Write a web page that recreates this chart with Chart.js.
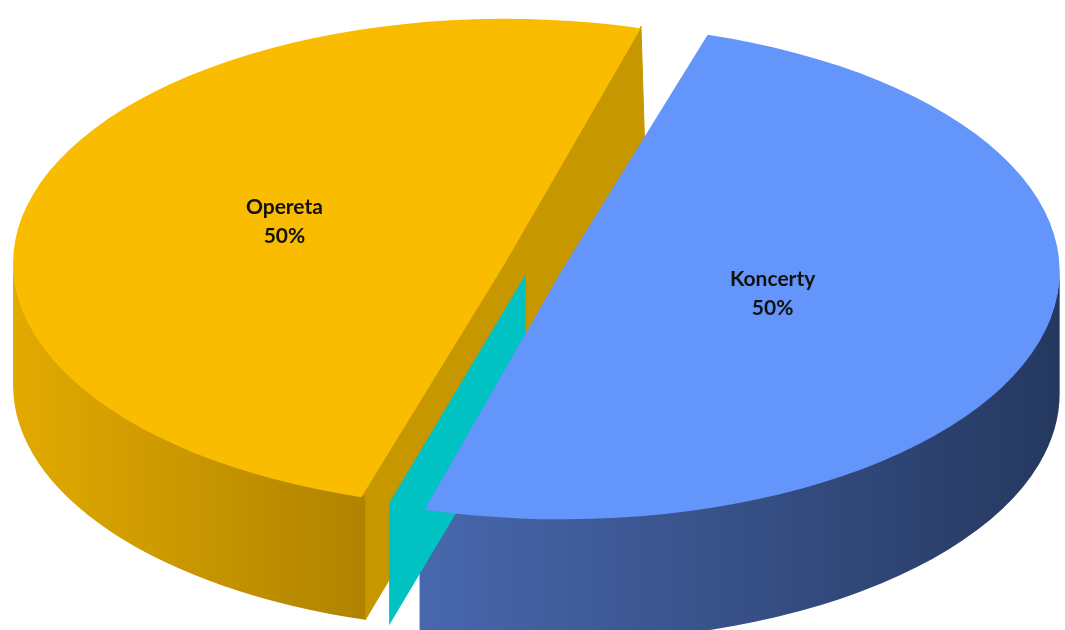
<!DOCTYPE html>
<html>
<head>
<meta charset="utf-8">
<script src="https://cdn.jsdelivr.net/npm/chart.js@4.4.1/dist/chart.umd.min.js"></script>
<style>
  html, body { margin: 0; padding: 0; background: #fff; }
</style>
</head>
<body>
<canvas id="pieChart" width="1065" height="630"></canvas>
<script>
// Data
const categories = ["Koncerty", "Inne", "Opereta"];
const values = [50, 0, 50];

// Colours: top face, outer wall (left -> right shade), cut face
const topColors = ["#6495FA", "#00C2C2", "#F9BC00"];
const wallColors = [["#4868AE", "#25385F"], ["#00C2C2", "#00C2C2"], ["#E2AA00", "#B08300"]];
const cutColors = ["#3A5690", "#00C2C2", "#C79700"];

// 3D look
const RADIUS = 466;             // base radius in px (explode adds offset/4 to it)
const TILT = 246 / 495;         // vertical squash of the top face
const DEPTH = 122;              // thickness of the pie in px
const EXPLODE = [130, 60, 104]; // per slice pull-out

// same math as Chart.js ArcElement.draw: shift along mid angle + bigger radius
function arcGeom(arc) {
  const circ = arc.endAngle - arc.startAngle;
  const off = (arc.options.offset || 0) / 4;
  const fix = 1 - Math.sin(Math.min(Math.PI, circ));
  return { shift: off, radius: arc.outerRadius + off * fix };
}

// parts of [s, e] that lie on the front half of the pie
function frontRanges(s, e) {
  const out = [];
  for (let k = -1; k <= 1; k++) {
    const lo = Math.max(s, k * 2 * Math.PI);
    const hi = Math.min(e, k * 2 * Math.PI + Math.PI);
    if (hi > lo) out.push([lo, hi]);
  }
  return out;
}

// draws sides below the top faces, then squashes the pie itself
const pie3dPlugin = {
  id: "pie3d",
  beforeDatasetsDraw(chart) {
    const { ctx } = chart;
    const arcs = chart.getDatasetMeta(0).data;
    const cx = arcs[0].x, cy = arcs[0].y;

    const slices = arcs.map((arc, i) => {
      const mid = (arc.startAngle + arc.endAngle) / 2;
      const g = arcGeom(arc);
      return {
        i, arc, mid,
        sx: cx + Math.cos(mid) * g.shift,
        sy: cy + Math.sin(mid) * g.shift * TILT,
        a: g.radius,
        b: g.radius * TILT
      };
    });
    // back to front
    slices.sort((p, q) => p.sy - q.sy);

    ctx.save();
    ctx.lineJoin = "round";
    slices.forEach(s => {
      const { arc, sx, sy, a, b, i, mid } = s;
      const zero = arc.endAngle - arc.startAngle < 1e-6;
      // tuck the faces a little under the top so no seam shows
      const tuck = zero ? 0 : 4;
      const tx = Math.cos(mid) * tuck, ty = Math.sin(mid) * tuck * TILT - (zero ? 0 : 2);

      // flat cut faces
      const edges = zero
        ? [arc.startAngle]
        : [arc.startAngle, arc.endAngle].filter((phi, k) => Math.sin(phi + (k === 0 ? -1 : 1) * Math.PI / 2) > 0);
      edges.forEach(phi => {
        const rx = sx + a * Math.cos(phi), ry = sy + b * Math.sin(phi);
        ctx.beginPath();
        ctx.moveTo(sx + tx, sy + ty);
        ctx.lineTo(rx + tx, ry + ty);
        ctx.lineTo(rx, ry + DEPTH);
        ctx.lineTo(sx, sy + DEPTH);
        ctx.closePath();
        ctx.fillStyle = cutColors[i];
        ctx.fill();
        if (!zero) {
          ctx.strokeStyle = cutColors[i];
          ctx.lineWidth = 1;
          ctx.stroke();
        }
      });

      // curved outer wall
      frontRanges(arc.startAngle, arc.endAngle).forEach(([lo, hi]) => {
        const x1 = sx + a * Math.cos(lo), x2 = sx + a * Math.cos(hi);
        let minX = Math.min(x1, x2), maxX = Math.max(x1, x2);
        if (lo < Math.PI && hi > Math.PI) minX = sx - a;
        if (lo <= 0 && hi > 0) maxX = sx + a;
        const grad = ctx.createLinearGradient(minX, 0, maxX, 0);
        grad.addColorStop(0, wallColors[i][0]);
        grad.addColorStop(1, wallColors[i][1]);
        ctx.beginPath();
        ctx.ellipse(sx, sy - (zero ? 0 : 2), a, b, 0, lo, hi, false);
        ctx.ellipse(sx, sy + DEPTH, a, b, 0, hi, lo, true);
        ctx.closePath();
        ctx.fillStyle = grad;
        ctx.fill();
      });
    });
    ctx.restore();

    ctx.save();
    ctx.translate(cx, cy);
    ctx.scale(1, TILT);
    ctx.translate(-cx, -cy);
  },
  afterDatasetsDraw(chart) {
    const { ctx } = chart;
    ctx.restore();

    const arcs = chart.getDatasetMeta(0).data;
    const cx = arcs[0].x, cy = arcs[0].y;
    const total = values.reduce((t, v) => t + v, 0);

    ctx.save();
    ctx.font = "bold 21px Lato";
    ctx.fillStyle = "#111";
    ctx.textAlign = "center";
    ctx.textBaseline = "middle";
    arcs.forEach((arc, i) => {
      if (!values[i]) return;
      const mid = (arc.startAngle + arc.endAngle) / 2;
      const g = arcGeom(arc);
      const r = g.radius * 0.455 + g.shift;
      const x = cx + Math.cos(mid) * r - 6;
      const y = cy + Math.sin(mid) * r * TILT - 10;
      ctx.fillText(categories[i], x, y - 14);
      ctx.fillText(Math.round(values[i] / total * 100) + "%", x, y + 15);
    });
    ctx.restore();
  }
};

new Chart(document.getElementById("pieChart"), {
  type: "pie",
  data: {
    labels: categories,
    datasets: [{
      data: values,
      backgroundColor: topColors,
      borderWidth: 0,
      offset: EXPLODE,
      clip: false
    }]
  },
  options: {
    responsive: false,
    animation: false,
    events: [],
    rotation: 16.5,
    radius: RADIUS,
    layout: { padding: { top: 0, bottom: 96, left: 0, right: 5 } },
    plugins: {
      legend: { display: false },
      tooltip: { enabled: false }
    }
  },
  plugins: [pie3dPlugin]
});
</script>
</body>
</html>
